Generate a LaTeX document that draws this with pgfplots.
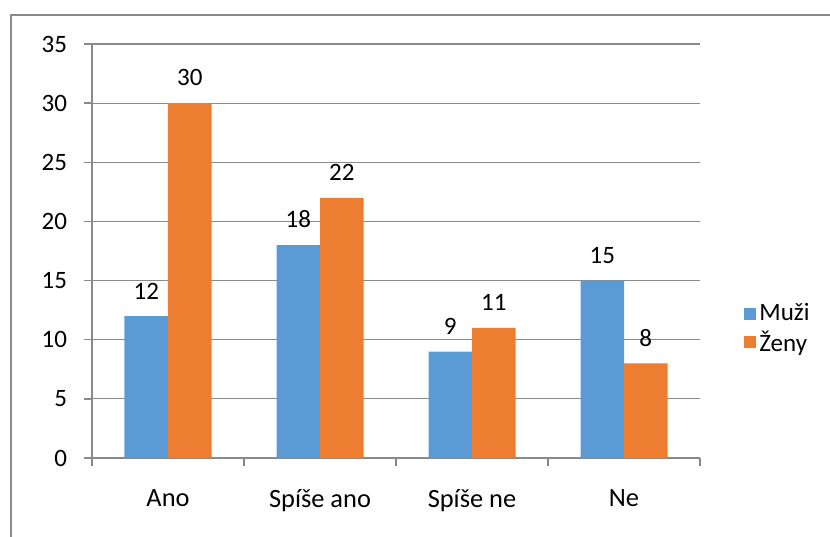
\documentclass[border=0pt]{standalone}
\usepackage{fontspec}
\setmainfont{Carlito}
\usepackage{pgfplots}
\pgfplotsset{compat=1.18}
\definecolor{muzi}{HTML}{5B9BD5}
\definecolor{zeny}{HTML}{ED7D31}
\definecolor{gridc}{HTML}{8A8A8A}
\begin{document}
\begin{tikzpicture}[font=\fontsize{12}{14.4}\selectfont]
\useasboundingbox (0,0) rectangle (415pt,-268pt);
\draw[gridc, line width=1pt] (5.25pt,-280pt) -- (5.25pt,-7.25pt) -- (430pt,-7.25pt);
\begin{axis}[
  at={(46pt,-229pt)}, anchor=south west,
  width=304pt, height=207pt, scale only axis,
  ybar=0pt, bar width=21.75pt,
  xmin=-0.5, xmax=3.5, ymin=0, ymax=35,
  ytick={0,5,...,35},
  xtick={-0.5,0.5,1.5,2.5,3.5},
  x tick label as interval=true,
  xticklabels={Ano,Spíše ano,Spíše ne,Ne},
  axis x line*=bottom, axis y line*=left,
  axis line style={-, gridc, line width=0.75pt},
  tick style={gridc, line width=0.75pt},
  tick align=outside, major tick length=4pt,
  ymajorgrids, grid style={gridc, line width=0.6pt},
  /pgf/number format/assume math mode=true,
  yticklabel style={xshift=-5pt, font=\fontsize{12.5}{15}\selectfont},
  xticklabel style={yshift=-8pt, font=\fontsize{13.2}{15}\selectfont},
  nodes near coords,
  nodes near coords style={anchor=south, yshift=5pt, text=black, font=\fontsize{12.5}{15}\selectfont},
  legend style={at={(1.0625,0.312)}, anchor=west, draw=none, fill=none,
    row sep=-0.5pt, nodes={inner xsep=1.5pt}, font=\fontsize{12.5}{15}\selectfont},
  legend cell align=left,
  legend image code/.code={\fill[#1] (0pt,-3pt) rectangle (6pt,3pt);},
]
\addplot[fill=muzi, draw=none] coordinates {(0,12) (1,18) (2,9) (3,15)};
\addplot[fill=zeny, draw=none] coordinates {(0,30) (1,22) (2,11) (3,8)};
\legend{Muži, Ženy}
\end{axis}
\end{tikzpicture}
\end{document}
